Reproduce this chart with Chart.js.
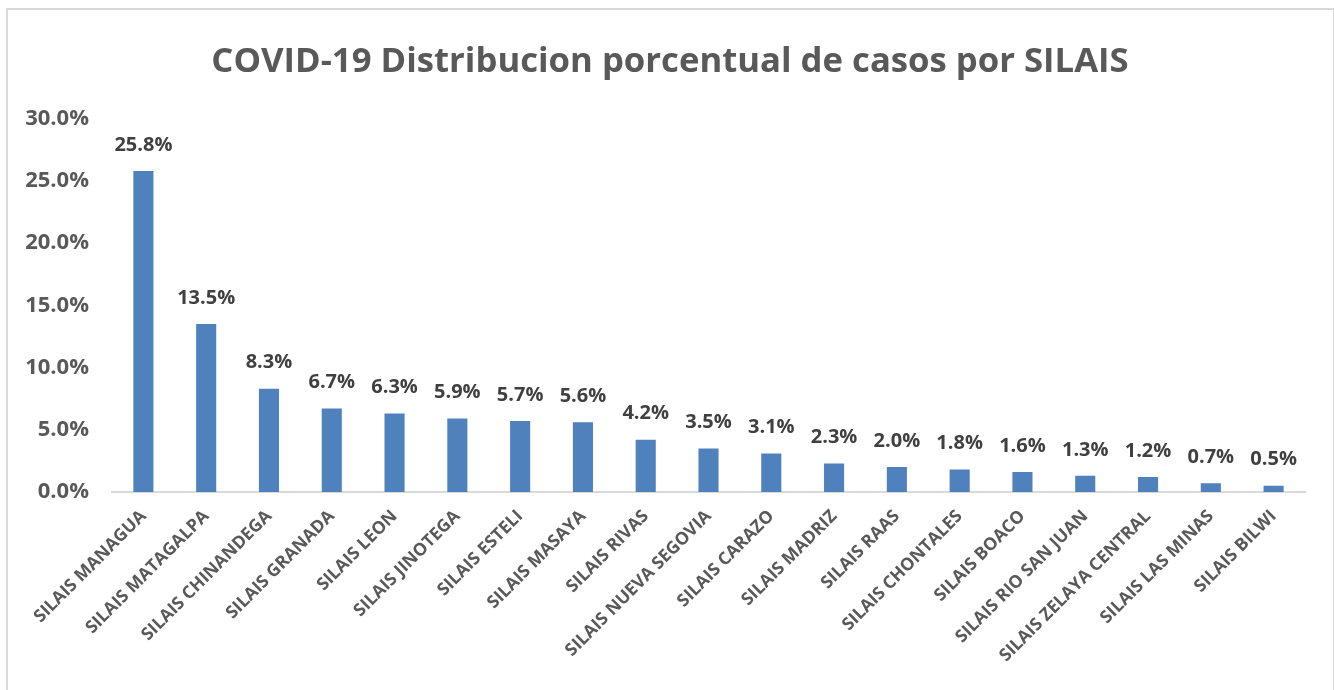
<!DOCTYPE html>
<html>
<head>
<meta charset="utf-8">
<script src="https://cdn.jsdelivr.net/npm/chart.js@4"></script>
<style>
    html, body { margin: 0; padding: 0; background: #fff; overflow: hidden; }
    #frame { position: absolute; left: 6px; top: 8px; width: 1325px; height: 720px; border: 2px solid #d9d9d9; }
    #wrap { position: absolute; left: 0; top: 0; width: 1334px; height: 690px; }
</style>
</head>
<body>
<div id="frame"></div>
<div id="wrap"><canvas id="silaisChart" width="1334" height="690"></canvas></div>
<script>
var categorias = ["SILAIS MANAGUA", "SILAIS MATAGALPA", "SILAIS CHINANDEGA", "SILAIS GRANADA", "SILAIS LEON",
    "SILAIS JINOTEGA", "SILAIS ESTELI", "SILAIS MASAYA", "SILAIS RIVAS", "SILAIS NUEVA SEGOVIA", "SILAIS CARAZO",
    "SILAIS MADRIZ", "SILAIS RAAS", "SILAIS CHONTALES", "SILAIS BOACO", "SILAIS RIO SAN JUAN",
    "SILAIS ZELAYA CENTRAL", "SILAIS LAS MINAS", "SILAIS BILWI"];
var porcentajes = [25.8, 13.5, 8.3, 6.7, 6.3, 5.9, 5.7, 5.6, 4.2, 3.5, 3.1, 2.3, 2.0, 1.8, 1.6, 1.3, 1.2, 0.7, 0.5];
var ejeY = [0, 5, 10, 15, 20, 25, 30];

var fuente = "'Open Sans', Lato, sans-serif";

// etiquetas encima de cada barra
var etiquetasBarras = {
    id: 'etiquetasBarras',
    afterDatasetsDraw: function (chart) {
        var ctx = chart.ctx;
        var meta = chart.getDatasetMeta(0);
        ctx.save();
        ctx.font = "bold 20px " + fuente;
        ctx.fillStyle = "#404040";
        ctx.textAlign = "center";
        ctx.textBaseline = "middle";
        meta.data.forEach(function (bar, i) {
            ctx.fillText(porcentajes[i].toFixed(1) + "%", bar.x, bar.y - 26);
        });
        ctx.restore();
    }
};

var ctx = document.getElementById('silaisChart').getContext('2d');
var silaisChart = new Chart(ctx, {
    type: 'bar',
    data: {
        labels: categorias,
        datasets: [{
            data: porcentajes,
            backgroundColor: '#4f81bd',
            borderWidth: 0,
            categoryPercentage: 1,
            barPercentage: 0.32
        }]
    },
    options: {
        responsive: false,
        animation: false,
        devicePixelRatio: 1,
        layout: { padding: { left: 6, right: 0, top: 0, bottom: 0 } },
        plugins: {
            legend: { display: false },
            tooltip: { enabled: false },
            title: {
                display: true,
                text: 'COVID-19 Distribucion porcentual de casos por SILAIS',
                color: '#595959',
                font: { family: fuente, size: 34.7, weight: 'bold' },
                padding: { top: 41, bottom: 36 }
            }
        },
        scales: {
            x: {
                grid: { display: false, drawTicks: false },
                border: { display: true, color: '#d9d9d9', width: 2 },
                ticks: {
                    autoSkip: false,
                    maxRotation: 45,
                    minRotation: 45,
                    padding: 14,
                    color: '#595959',
                    font: { family: fuente, size: 17.5, weight: 'bold' }
                },
                afterFit: function (scale) {
                    scale.height = 198;
                    scale.paddingRight = 29;
                }
            },
            y: {
                min: 0,
                max: 30,
                afterBuildTicks: function (scale) {
                    scale.ticks = ejeY.map(function (v) { return { value: v }; });
                },
                grid: { display: false, drawTicks: false },
                border: { display: false },
                ticks: {
                    padding: 23,
                    color: '#595959',
                    font: { family: fuente, size: 22, weight: 'bold' },
                    callback: function (v) { return v.toFixed(1) + '%'; }
                },
                afterFit: function (scale) { scale.width = 106; }
            }
        }
    },
    plugins: [etiquetasBarras]
});
</script>
</body>
</html>
